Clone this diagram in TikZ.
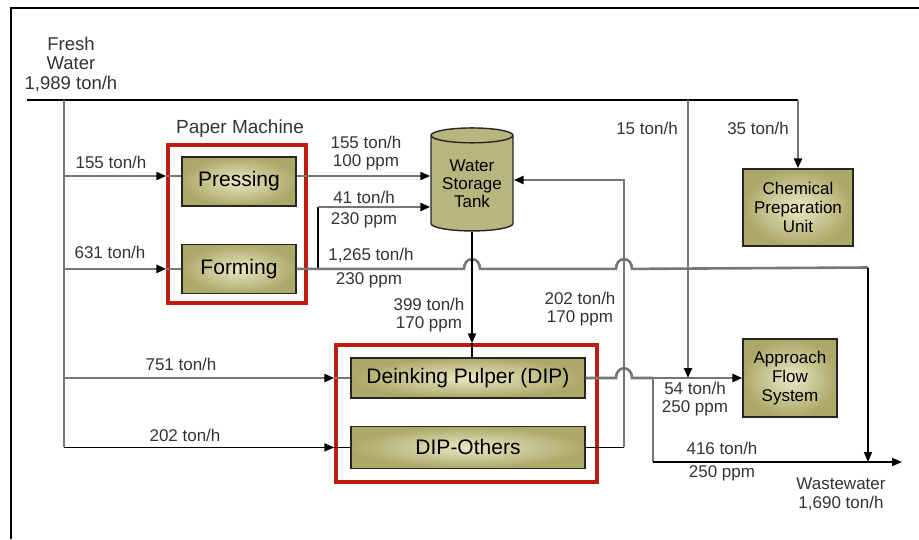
\documentclass[tikz,border=0pt]{standalone}
\usepackage{fontspec}
\setmainfont{Liberation Sans}
\usetikzlibrary{positioning, arrows.meta, shapes.geometric}

\definecolor{unitfill}{RGB}{172,168,104}
\definecolor{unitlight}{RGB}{234,232,198}
\definecolor{grpred}{RGB}{190,28,18}
\definecolor{pipegray}{RGB}{118,118,118}

\begin{document}
\begin{tikzpicture}[
  x=1pt, y=-1pt,
  unit/.style={draw=black!85, line width=1.4pt, inner color=unitlight,
               outer color=unitfill, inner sep=0pt,
               font=\fontsize{21}{22}\selectfont},
  smallunit/.style={unit, align=center, font=\fontsize{17}{19}\selectfont},
  grp/.style={draw=grpred, line width=3.4pt, fill=white},
  tankshape/.style={cylinder, shape border rotate=90, aspect=0.25,
               draw=black!85, line width=1.4pt, fill=unitfill!85!white,
               align=center, font=\fontsize{17}{18}\selectfont,
               minimum width=82pt, minimum height=103pt, inner sep=0pt},
  lbl/.style={font=\fontsize{17}{18.5}\selectfont, text=black!80,
              inner sep=0pt, align=center},
  pipe/.style={draw=pipegray, line width=2.6pt},
  pipeb/.style={draw=black, line width=1.8pt},
  arr/.style={-{Triangle[length=10pt, width=8pt, color=black]}},
  hop/.style={insert path={-- ([xshift=-8pt]#1)
    .. controls ([xshift=-8pt, yshift=13pt]#1) and ([xshift=8pt, yshift=13pt]#1)
    .. ([xshift=8pt]#1)}}
]
  \useasboundingbox (0,0) rectangle (919,539);
  \draw[line width=1.6pt] (11,539) -- (11,8) -- (919,8);

  \node[grp, minimum width=138pt, minimum height=158pt] (pm) at (237,224) {};
  \node[grp, minimum width=261pt, minimum height=137pt] (dipgrp) at (466.5,413.5) {};
  \node[unit, minimum width=114pt, minimum height=49pt] (press) at (239,181.5) {Pressing};
  \node[unit, minimum width=114pt, minimum height=49pt, below=37pt of press] (form) {Forming};
  \node[unit, minimum width=234pt, minimum height=40pt] (dip) at (468,378) {Deinking Pulper (DIP)};
  \node[unit, minimum width=234pt, minimum height=42pt, below=27pt of dip] (dipo) {DIP-Others};
  \node[tankshape] (tank) at (472,183.5) {Water\\Storage\\Tank};
  \node[smallunit, minimum width=110pt, minimum height=77pt] (chem) at (798,207.5)
    {Chemical\\Preparation\\Unit};
  \node[smallunit, minimum width=94pt, minimum height=78pt] (afs) at (790,378)
    {Approach\\Flow\\System};

  \coordinate (fwL)  at (27,100);
  \coordinate (jL)   at (64,100);
  \coordinate (j15)  at (688,100);
  \coordinate (pin)  at (64,176);
  \coordinate (t41)  at (318,207);
  \coordinate (tret) at (624,180);
  \coordinate (j54)  at (653,378);
  \coordinate (jR)   at (868,267.5);
  \coordinate (ww)   at (902,462);
  \coordinate (x1) at (tank.south |- form.east);
  \coordinate (x2) at (tret |- form.east);
  \coordinate (x3) at (tret |- dip.east);

  \draw[pipeb] (fwL) -- (chem.north |- fwL);
  \draw[pipe, arr] (chem.north |- fwL) -- (chem.north);
  \draw[pipe] (jL) -- (jL |- dipo.west);
  \draw[pipe, arr] (pin) -- (pm.west |- pin);
  \draw[pipe] (pm.west |- pin) -- (press.west |- pin);
  \draw[pipe, arr] (jL |- form.west) -- (pm.west |- form.west);
  \draw[pipe] (pm.west |- form.west) -- (form.west);
  \draw[pipe, arr] (jL |- dip.west) -- (dipgrp.west |- dip.west);
  \draw[pipe] (dipgrp.west |- dip.west) -- (dip.west);
  \draw[pipeb, arr] (jL |- dipo.west) -- (dipgrp.west |- dipo.west);
  \draw[pipeb] (dipgrp.west |- dipo.west) -- (dipo.west);
  \draw[pipe, arr] (press.east |- pin) -- (tank.west |- pin);
  \draw[pipeb] (t41 |- form.east) -- (t41);
  \draw[pipe, arr] (t41) -- (tank.west |- t41);
  \draw[pipe] (form.east) [hop=x1] [hop=x2] -- (jR);
  \draw[pipeb, arr] (jR) -- (jR |- ww);
  \draw[pipeb, arr] (tank.south) -- (tank.south |- dipgrp.north);
  \draw[pipeb] (tank.south |- dipgrp.north) -- (tank.south |- dip.north);
  \draw[pipeb] (dipo.east) -- (tret |- dipo.east);
  \draw[pipe, arr] (tret |- dipo.east) -- (tret) -- (tank.east |- tret);
  \draw[pipe] (dip.east) [hop=x3] -- (j54);
  \draw[pipe, arr] (j54) -- (afs.west);
  \draw[pipe, arr] (j15) -- (j15 |- afs.west);
  \draw[pipe] (j54) -- (j54 |- ww);
  \draw[pipeb, arr] (j54 |- ww) -- (ww);

  \node[lbl, font=\fontsize{18.5}{19.5}\selectfont] (fwlbl) at (71,64)
    {Fresh\\Water\\1,989 ton/h};
  \node[lbl, font=\fontsize{19}{20}\selectfont] (pmlbl) at (240,129) {Paper Machine};
  \node[lbl] (l155)   at (111,162) {155 ton/h};
  \node[lbl] (l631)   at (110,252) {631 ton/h};
  \node[lbl] (l751)   at (181,364) {751 ton/h};
  \node[lbl] (l202)   at (185,435) {202 ton/h};
  \node[lbl] (l155b)  at (366,153) {155 ton/h\\100 ppm};
  \node[lbl] (l41)    at (364,197) {41 ton/h};
  \node[lbl] (l41c)   at (364,220) {230 ppm};
  \node[lbl] (l1265)  at (371,255) {1,265 ton/h};
  \node[lbl] (l1265c) at (369,280) {230 ppm};
  \node[lbl] (l399)   at (429,315) {399 ton/h\\170 ppm};
  \node[lbl] (l202b)  at (580,309) {202 ton/h\\170 ppm};
  \node[lbl] (l15)    at (647,128) {15 ton/h};
  \node[lbl] (l35)    at (758,128) {35 ton/h};
  \node[lbl] (l54)    at (695,399) {54 ton/h\\250 ppm};
  \node[lbl] (l416)   at (722,448) {416 ton/h};
  \node[lbl] (l416c)  at (722,473) {250 ppm};
  \node[lbl] (lww)    at (841,494) {Wastewater\\1,690 ton/h};
\end{tikzpicture}
\end{document}
